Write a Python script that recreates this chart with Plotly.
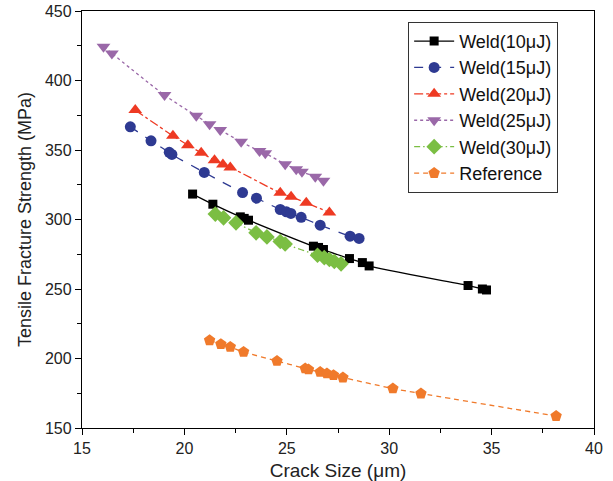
import plotly.graph_objects as go

# ---- data ----
w10_x = [20.40, 21.39, 22.73, 22.92, 23.13, 26.30, 26.55, 26.79, 28.06, 28.69, 29.02, 33.85, 34.55, 34.75]
w10_y = [318.3, 311.0, 301.9, 300.8, 299.5, 280.8, 279.9, 278.4, 271.9, 269.0, 266.6, 252.5, 250.0, 249.3]

w15_x = [17.36, 18.37, 19.26, 19.39, 20.97, 22.84, 23.52, 24.68, 24.98, 25.20, 25.70, 26.63, 28.09, 28.53]
w15_y = [366.7, 356.6, 348.3, 346.8, 333.9, 319.4, 315.3, 307.2, 305.5, 304.4, 301.6, 295.9, 288.0, 286.4]

w20_x = [17.60, 19.44, 20.17, 20.82, 21.47, 21.88, 22.24, 24.68, 25.21, 25.95, 27.08]
w20_y = [378.7, 360.2, 353.5, 348.0, 342.7, 339.6, 337.5, 319.2, 316.3, 312.0, 305.1]

w25_x = [16.05, 16.46, 19.03, 20.58, 21.23, 21.75, 22.77, 23.67, 23.95, 24.92, 25.46, 25.74, 26.39, 26.79]
w25_y = [424.3, 419.5, 389.5, 374.6, 368.6, 364.3, 355.9, 349.2, 347.6, 339.8, 336.2, 334.3, 330.7, 327.8]

w30_x = [21.51, 21.91, 22.52, 23.50, 24.03, 24.68, 24.92, 26.50, 26.83, 27.08, 27.32, 27.65]
w30_y = [303.9, 301.2, 297.6, 290.4, 287.5, 284.2, 282.4, 274.3, 272.6, 271.2, 269.8, 268.1]

ref_x = [21.23, 21.78, 22.24, 22.89, 24.52, 25.90, 26.06, 26.63, 26.96, 27.28, 27.74, 30.18, 31.55, 38.15]
ref_y = [213.1, 210.3, 208.3, 204.7, 198.2, 192.8, 192.1, 190.3, 189.2, 188.0, 186.3, 178.4, 174.8, 158.6]

names = ["Weld(10\u03bcJ)", "Weld(15\u03bcJ)", "Weld(20\u03bcJ)", "Weld(25\u03bcJ)", "Weld(30\u03bcJ)", "Reference"]

x_ticks = [15, 20, 25, 30, 35, 40]
y_ticks = [150, 200, 250, 300, 350, 400, 450]

# ---- styles ----
styles = [
    dict(color="#000000", dash="solid", symbol="square", size=9),
    dict(color="#2E3A92", dash="dash", symbol="circle", size=11),
    dict(color="#EE3A23", dash="dashdot", symbol="triangle-up", size=12),
    dict(color="#9A68A8", dash="dot", symbol="triangle-down", size=12),
    dict(color="#7BBE43", dash="6px,3px,1.5px,3px,1.5px,3px", symbol="diamond", size=12),
    dict(color="#F07A2B", dash="5px,4px", symbol="pentagon", size=12),
]

series = [(w10_x, w10_y), (w15_x, w15_y), (w20_x, w20_y), (w25_x, w25_y), (w30_x, w30_y), (ref_x, ref_y)]

FONT = "Arial, Liberation Sans, sans-serif"

fig = go.Figure()
for (xs, ys), name, st in zip(series, names, styles):
    fig.add_trace(go.Scatter(
        x=xs, y=ys, name=name, mode="lines+markers",
        line=dict(color=st["color"], dash=st["dash"], width=1.3, shape="spline", smoothing=0.8),
        marker=dict(symbol=st["symbol"], size=st["size"], color=st["color"], line=dict(width=0)),
    ))

axis_common = dict(
    showline=True, linecolor="black", linewidth=1.3, mirror=True,
    ticks="outside", ticklen=6, tickwidth=1.3, tickcolor="black",
    showgrid=False, zeroline=False, automargin=False,
    tickfont=dict(family=FONT, size=16, color="#222"),
)

fig.update_xaxes(
    range=[15, 40], tickvals=x_ticks, ticktext=[str(v) for v in x_ticks],
    minor=dict(dtick=2.5, tick0=15, ticks="outside", ticklen=4, tickcolor="black"),
    title=dict(text="Crack Size (\u03bcm)", font=dict(family=FONT, size=19, color="#222"), standoff=8),
    **axis_common,
)
fig.update_yaxes(
    range=[150, 450], tickvals=y_ticks, ticktext=[str(v) for v in y_ticks],
    minor=dict(dtick=25, tick0=150, ticks="outside", ticklen=4, tickcolor="black"),
    title=dict(text="Tensile Fracture Strength (MPa)", font=dict(family=FONT, size=18, color="#222"), standoff=8),
    **axis_common,
)

fig.update_layout(
    width=613, height=481,
    margin=dict(l=82, r=19, t=11, b=53),
    paper_bgcolor="white", plot_bgcolor="white",
    showlegend=True,
    legend=dict(
        x=0.637, y=0.974, xanchor="left", yanchor="top",
        bgcolor="white", bordercolor="#333", borderwidth=1,
        font=dict(family=FONT, size=18, color="#111"),
        itemwidth=40, tracegroupgap=0,
    ),
)

fig.write_html("out.html")
